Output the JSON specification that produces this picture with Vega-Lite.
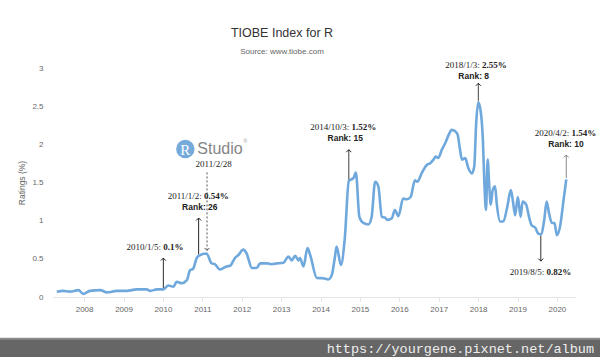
{
  "$schema": "https://vega.github.io/schema/vega-lite/v6.json",
  "width": 522,
  "height": 229,
  "autosize": {"type": "none"},
  "padding": {"left": 53, "top": 68, "right": 25, "bottom": 60},
  "background": "white",
  "config": {"view": {"stroke": null}, "font": "Liberation Sans"},
  "title": {
    "text": "TIOBE Index for R",
    "subtitle": "Source: www.tiobe.com",
    "anchor": "middle",
    "dx": -32,
    "offset": 5,
    "font": "Liberation Sans",
    "fontSize": 12.5,
    "fontWeight": "normal",
    "color": "#333333",
    "subtitleFont": "Liberation Sans",
    "subtitleFontSize": 8,
    "subtitleColor": "#666666",
    "subtitlePadding": 8
  },
  "encoding": {
    "x": {
      "field": "date",
      "type": "temporal",
      "scale": {
        "domain": [{"year": 2007, "month": 3, "date": 19}, {"year": 2020, "month": 6, "date": 17}],
        "nice": false
      },
      "axis": {
        "title": null,
        "format": "%Y",
        "tickCount": {"interval": "year", "step": 1},
        "grid": false,
        "domainColor": "#e3e3e3",
        "tickColor": "#e3e3e3",
        "tickSize": 4,
        "labelPadding": 4,
        "labelFontSize": 8,
        "labelColor": "#666666",
        "labelFont": "Liberation Sans"
      }
    },
    "y": {
      "field": "value",
      "type": "quantitative",
      "scale": {"domain": [0, 3], "nice": false},
      "axis": {
        "title": "Ratings (%)",
        "values": [0, 0.5, 1, 1.5, 2, 2.5, 3],
        "format": "~g",
        "grid": false,
        "domain": false,
        "ticks": false,
        "tickSize": 0,
        "labelPadding": 10,
        "labelFontSize": 8,
        "labelColor": "#666666",
        "labelFont": "Liberation Sans",
        "titleFont": "Liberation Sans",
        "titleFontSize": 8.5,
        "titleFontWeight": "normal",
        "titleColor": "#666666",
        "titlePadding": 5
      }
    }
  },
  "layer": [
    {
      "data": {"values": [{"date": "2005-10-01", "date2": "2021-04-01", "value": -0.535, "value2": -1.2}]},
      "mark": {"type": "rect", "color": "#8c8c8c"},
      "encoding": {"x2": {"field": "date2"}, "y2": {"field": "value2"}}
    },
    {
      "data": {"values": [{"date": "2005-10-01", "date2": "2021-04-01", "value": -0.56, "value2": -1.2}]},
      "mark": {"type": "rect", "color": "#666666"},
      "encoding": {"x2": {"field": "date2"}, "y2": {"field": "value2"}}
    },
    {
      "data": {"values": [{"date": "2020-12-10", "value": -0.675, "t": "https://yourgene.pixnet.net/album"}]},
      "mark": {"type": "text", "font": "Liberation Mono", "fontSize": 13.5, "align": "right", "baseline": "middle", "color": "#eeeeee"},
      "encoding": {"text": {"field": "t"}}
    },
    {
      "data": {"name": "series", "values": [
        {"date": "2007-04-23", "value": 0.07}, {"date": "2007-06-21", "value": 0.08}, {"date": "2007-08-22", "value": 0.07},
        {"date": "2007-11-10", "value": 0.09}, {"date": "2007-12-24", "value": 0.04}, {"date": "2008-02-24", "value": 0.08},
        {"date": "2008-05-30", "value": 0.09}, {"date": "2008-07-31", "value": 0.06}, {"date": "2008-10-30", "value": 0.08},
        {"date": "2009-01-30", "value": 0.08}, {"date": "2009-05-04", "value": 0.10}, {"date": "2009-08-03", "value": 0.10},
        {"date": "2009-09-05", "value": 0.08}, {"date": "2009-11-06", "value": 0.10}, {"date": "2010-01-05", "value": 0.10},
        {"date": "2010-02-20", "value": 0.15}, {"date": "2010-04-09", "value": 0.135}, {"date": "2010-05-08", "value": 0.20},
        {"date": "2010-06-24", "value": 0.18}, {"date": "2010-08-11", "value": 0.22}, {"date": "2010-09-09", "value": 0.35},
        {"date": "2010-10-08", "value": 0.37}, {"date": "2010-11-10", "value": 0.51}, {"date": "2010-11-28", "value": 0.54},
        {"date": "2011-02-09", "value": 0.57}, {"date": "2011-03-29", "value": 0.44}, {"date": "2011-04-27", "value": 0.43},
        {"date": "2011-06-13", "value": 0.36}, {"date": "2011-07-16", "value": 0.38}, {"date": "2011-08-14", "value": 0.40},
        {"date": "2011-09-16", "value": 0.41}, {"date": "2011-10-30", "value": 0.51}, {"date": "2011-12-02", "value": 0.55},
        {"date": "2012-01-15", "value": 0.62}, {"date": "2012-02-16", "value": 0.57}, {"date": "2012-04-05", "value": 0.38},
        {"date": "2012-05-19", "value": 0.38}, {"date": "2012-06-21", "value": 0.44}, {"date": "2012-08-22", "value": 0.44},
        {"date": "2012-10-04", "value": 0.43}, {"date": "2012-11-21", "value": 0.44}, {"date": "2013-01-22", "value": 0.45},
        {"date": "2013-03-10", "value": 0.53}, {"date": "2013-04-09", "value": 0.48}, {"date": "2013-05-11", "value": 0.54},
        {"date": "2013-06-10", "value": 0.48}, {"date": "2013-06-24", "value": 0.51}, {"date": "2013-07-27", "value": 0.40},
        {"date": "2013-09-02", "value": 0.64}, {"date": "2013-09-27", "value": 0.55}, {"date": "2013-11-28", "value": 0.25},
        {"date": "2014-01-26", "value": 0.245}, {"date": "2014-03-14", "value": 0.23}, {"date": "2014-04-16", "value": 0.29},
        {"date": "2014-05-15", "value": 0.53}, {"date": "2014-05-30", "value": 0.66}, {"date": "2014-07-09", "value": 0.42},
        {"date": "2014-08-14", "value": 0.77}, {"date": "2014-09-20", "value": 1.52}, {"date": "2014-11-03", "value": 1.56},
        {"date": "2014-11-25", "value": 1.63}, {"date": "2014-12-27", "value": 1.05}, {"date": "2015-02-02", "value": 0.97},
        {"date": "2015-03-21", "value": 0.95}, {"date": "2015-04-20", "value": 1.05}, {"date": "2015-05-22", "value": 1.51},
        {"date": "2015-06-21", "value": 1.45}, {"date": "2015-07-23", "value": 1.05}, {"date": "2015-08-22", "value": 1.04},
        {"date": "2015-09-13", "value": 1.01}, {"date": "2015-10-23", "value": 1.03}, {"date": "2015-11-21", "value": 1.14},
        {"date": "2015-12-24", "value": 1.06}, {"date": "2016-02-06", "value": 1.29}, {"date": "2016-03-09", "value": 1.28},
        {"date": "2016-04-15", "value": 1.31}, {"date": "2016-05-25", "value": 1.53}, {"date": "2016-06-16", "value": 1.51},
        {"date": "2016-07-26", "value": 1.62}, {"date": "2016-09-12", "value": 1.73}, {"date": "2016-10-11", "value": 1.75},
        {"date": "2016-11-13", "value": 1.80}, {"date": "2016-12-04", "value": 1.84}, {"date": "2016-12-26", "value": 1.82},
        {"date": "2017-01-30", "value": 1.93}, {"date": "2017-02-28", "value": 2.01}, {"date": "2017-04-02", "value": 2.12},
        {"date": "2017-05-01", "value": 2.19}, {"date": "2017-06-03", "value": 2.17}, {"date": "2017-06-25", "value": 2.13},
        {"date": "2017-07-13", "value": 1.97}, {"date": "2017-08-04", "value": 1.80}, {"date": "2017-09-03", "value": 1.82},
        {"date": "2017-10-02", "value": 1.69}, {"date": "2017-11-04", "value": 1.62}, {"date": "2017-11-26", "value": 1.71},
        {"date": "2017-12-14", "value": 2.28}, {"date": "2018-01-03", "value": 2.55}, {"date": "2018-01-27", "value": 2.41},
        {"date": "2018-02-14", "value": 2.06}, {"date": "2018-02-28", "value": 1.49}, {"date": "2018-03-15", "value": 1.14},
        {"date": "2018-03-30", "value": 1.80}, {"date": "2018-04-13", "value": 1.49}, {"date": "2018-04-28", "value": 1.21},
        {"date": "2018-05-16", "value": 1.40}, {"date": "2018-06-07", "value": 1.45}, {"date": "2018-06-22", "value": 1.23},
        {"date": "2018-07-24", "value": 0.99}, {"date": "2018-08-23", "value": 0.99}, {"date": "2018-09-28", "value": 1.18},
        {"date": "2018-10-31", "value": 1.40}, {"date": "2018-11-18", "value": 1.27}, {"date": "2018-12-10", "value": 1.07},
        {"date": "2019-01-04", "value": 1.31}, {"date": "2019-01-30", "value": 1.05}, {"date": "2019-02-17", "value": 1.25},
        {"date": "2019-03-22", "value": 1.21}, {"date": "2019-04-21", "value": 1.03}, {"date": "2019-05-12", "value": 0.94},
        {"date": "2019-06-14", "value": 0.91}, {"date": "2019-07-13", "value": 0.83}, {"date": "2019-08-05", "value": 0.82},
        {"date": "2019-09-06", "value": 1.01}, {"date": "2019-09-28", "value": 1.25}, {"date": "2019-10-20", "value": 1.10},
        {"date": "2019-11-15", "value": 0.97}, {"date": "2019-12-10", "value": 0.97}, {"date": "2020-01-01", "value": 0.81},
        {"date": "2020-01-30", "value": 0.92}, {"date": "2020-03-03", "value": 1.27}, {"date": "2020-03-28", "value": 1.54}
      ]},
      "mark": {"type": "line", "interpolate": "monotone", "color": "#6fa8dc", "strokeWidth": 2.6},
      "encoding": {}
    },
    {
      "data": {"name": "arrows", "values": [
        {"date": "2010-01-05", "start": 0.12, "value": 0.51, "dir": "up", "kind": "solid"},
        {"date": "2010-11-28", "start": 0.56, "value": 1.035, "dir": "up", "kind": "solid"},
        {"date": "2011-02-14", "start": 1.65, "value": 0.61, "dir": "down", "kind": "dotted"},
        {"date": "2014-09-20", "start": 1.54, "value": 1.93, "dir": "up", "kind": "solid"},
        {"date": "2018-01-03", "start": 2.57, "value": 2.80, "dir": "up", "kind": "solid"},
        {"date": "2019-08-05", "start": 0.80, "value": 0.47, "dir": "down", "kind": "solid"},
        {"date": "2020-03-28", "start": 1.56, "value": 1.86, "dir": "up", "kind": "gray"}
      ]},
      "layer": [
        {
          "mark": {"type": "rule", "strokeWidth": 1},
          "encoding": {
            "y2": {"field": "start"},
            "color": {"field": "kind", "type": "nominal", "scale": {"domain": ["solid", "dotted", "gray"], "range": ["#222222", "#555555", "#888888"]}, "legend": null},
            "strokeDash": {"field": "kind", "type": "nominal", "scale": {"domain": ["solid", "dotted", "gray"], "range": [[1, 0], [2, 2], [1, 0]]}, "legend": null}
          }
        },
        {
          "mark": {"type": "point", "filled": false, "strokeWidth": 1, "size": 25, "opacity": 1},
          "encoding": {
            "shape": {"field": "dir", "type": "nominal", "scale": {"domain": ["up", "down"], "range": ["M-1,1L0,0L1,1", "M-1,-1L0,0L1,-1"]}, "legend": null},
            "color": {"field": "kind", "type": "nominal", "scale": {"domain": ["solid", "dotted", "gray"], "range": ["#222222", "#555555", "#888888"]}, "legend": null}
          }
        }
      ]
    },
    {
      "data": {"name": "notes", "values": [
        {"date": "2009-12-15", "value": 0.655, "d": "2010/1/5:", "v": "0.1%"},
        {"date": "2010-12-28", "value": 1.327, "d": "2011/1/2:", "v": "0.54%"},
        {"date": "2014-09-25", "value": 2.231, "d": "2014/10/3:", "v": "1.52%"},
        {"date": "2018-01-16", "value": 3.04, "d": "2018/1/3:", "v": "2.55%"},
        {"date": "2020-04-24", "value": 2.153, "d": "2020/4/2:", "v": "1.54%"},
        {"date": "2019-09-06", "value": 0.331, "d": "2019/8/5:", "v": "0.82%"}
      ]},
      "layer": [
        {
          "mark": {"type": "text", "font": "Liberation Serif", "fontSize": 9, "align": "right", "baseline": "middle", "color": "#222222"},
          "encoding": {"text": {"field": "d"}}
        },
        {
          "mark": {"type": "text", "font": "Liberation Serif", "fontSize": 9, "fontWeight": "bold", "align": "left", "baseline": "middle", "dx": 2.25, "color": "#222222"},
          "encoding": {"text": {"field": "v"}}
        }
      ]
    },
    {
      "data": {"name": "ranks", "values": [
        {"date": "2010-12-09", "value": 1.183, "t": "Rank: 26"},
        {"date": "2014-08-18", "value": 2.083, "t": "Rank: 15"},
        {"date": "2017-11-21", "value": 2.895, "t": "Rank: 8"},
        {"date": "2020-03-26", "value": 2.004, "t": "Rank: 10"}
      ]},
      "mark": {"type": "text", "font": "Liberation Sans", "fontSize": 8.5, "fontWeight": "bold", "align": "center", "baseline": "middle", "color": "#222222"},
      "encoding": {"text": {"field": "t"}}
    },
    {
      "data": {"values": [{"date": "2011-04-16", "value": 1.742, "t": "2011/2/28"}]},
      "mark": {"type": "text", "font": "Liberation Serif", "fontSize": 9, "align": "center", "baseline": "middle", "color": "#222222"},
      "encoding": {"text": {"field": "t"}}
    },
    {
      "data": {"values": [{"date": "2010-07-28", "value": 1.94, "t": "R"}]},
      "layer": [
        {"mark": {"type": "point", "shape": "circle", "filled": true, "size": 340, "color": "#75aadb", "opacity": 1}, "encoding": {}},
        {"mark": {"type": "text", "font": "Liberation Serif", "fontSize": 15, "align": "center", "baseline": "middle", "dy": 1, "color": "white"}, "encoding": {"text": {"field": "t"}}}
      ]
    },
    {
      "data": {"values": [{"date": "2010-11-16", "value": 1.94, "t": "Studio"}]},
      "mark": {"type": "text", "font": "Liberation Sans", "fontSize": 16, "align": "left", "baseline": "middle", "color": "#858585"},
      "encoding": {"text": {"field": "t"}}
    },
    {
      "data": {"values": [{"date": "2012-02-03", "value": 2.044, "t": "®"}]},
      "mark": {"type": "text", "font": "Liberation Sans", "fontSize": 5, "align": "center", "baseline": "middle", "color": "#999999"},
      "encoding": {"text": {"field": "t"}}
    }
  ]
}
